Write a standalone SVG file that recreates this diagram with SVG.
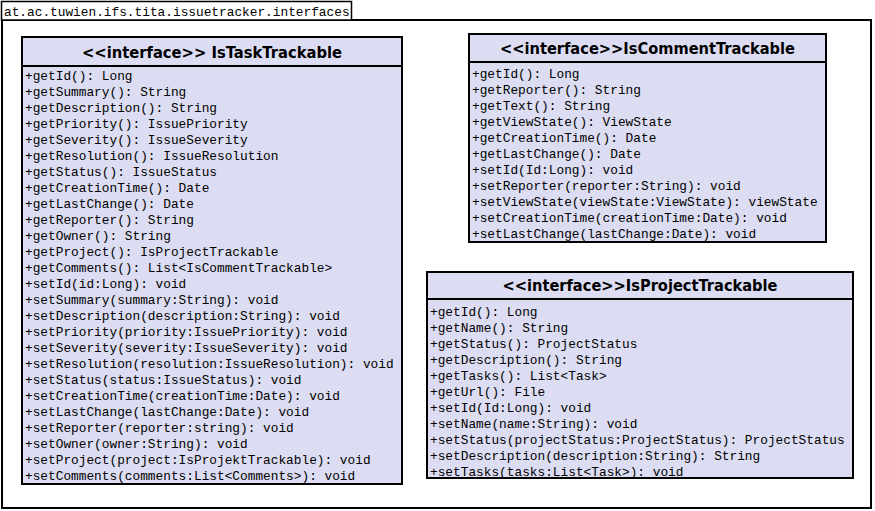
<svg xmlns="http://www.w3.org/2000/svg" width="875" height="511" viewBox="0 0 875 511">
<style>
.frame{fill:#fff;stroke:#000;stroke-width:2}
.tab{fill:#fff;stroke:#000;stroke-width:1.5}
.box{fill:#dcddf2;stroke:#000;stroke-width:2}
.sep{stroke:#000;stroke-width:2}
.title{font-family:"DejaVu Sans","Liberation Sans",sans-serif;font-weight:bold;font-size:16px;fill:#000}
.m{font-family:"Liberation Mono","Courier New",monospace;font-size:12.8px;fill:#000}
</style>
<rect x="0" y="0" width="875" height="511" fill="#fff"/>
<g id="package">
<rect class="frame" x="2" y="20" width="869" height="488"/>
<rect class="tab" x="1.5" y="1.5" width="350" height="18.5"/>
<text class="m" x="4" y="15.5">at.ac.tuwien.ifs.tita.issuetracker.interfaces</text>
</g>
<g id="IsTaskTrackable">
<rect class="box" x="22" y="37" width="380" height="447"/>
<line class="sep" x1="22" y1="66" x2="402" y2="66"/>
<text class="title" x="212" y="57.5" text-anchor="middle" textLength="260" lengthAdjust="spacingAndGlyphs">&lt;&lt;interface&gt;&gt; IsTaskTrackable</text>
<g class="m">
<text x="25" y="79.5">+getId(): Long</text>
<text x="25" y="95.5">+getSummary(): String</text>
<text x="25" y="111.5">+getDescription(): String</text>
<text x="25" y="127.5">+getPriority(): IssuePriority</text>
<text x="25" y="143.5">+getSeverity(): IssueSeverity</text>
<text x="25" y="159.5">+getResolution(): IssueResolution</text>
<text x="25" y="175.5">+getStatus(): IssueStatus</text>
<text x="25" y="191.5">+getCreationTime(): Date</text>
<text x="25" y="207.5">+getLastChange(): Date</text>
<text x="25" y="223.5">+getReporter(): String</text>
<text x="25" y="239.5">+getOwner(): String</text>
<text x="25" y="255.5">+getProject(): IsProjectTrackable</text>
<text x="25" y="271.5">+getComments(): List&lt;IsCommentTrackable&gt;</text>
<text x="25" y="287.5">+setId(id:Long): void</text>
<text x="25" y="303.5">+setSummary(summary:String): void</text>
<text x="25" y="319.5">+setDescription(description:String): void</text>
<text x="25" y="335.5">+setPriority(priority:IssuePriority): void</text>
<text x="25" y="351.5">+setSeverity(severity:IssueSeverity): void</text>
<text x="25" y="367.5">+setResolution(resolution:IssueResolution): void</text>
<text x="25" y="383.5">+setStatus(status:IssueStatus): void</text>
<text x="25" y="399.5">+setCreationTime(creationTime:Date): void</text>
<text x="25" y="415.5">+setLastChange(lastChange:Date): void</text>
<text x="25" y="431.5">+setReporter(reporter:string): void</text>
<text x="25" y="447.5">+setOwner(owner:String): void</text>
<text x="25" y="463.5">+setProject(project:IsProjektTrackable): void</text>
<text x="25" y="479.5">+setComments(comments:List&lt;Comments&gt;): void</text>
</g>
</g>
<g id="IsCommentTrackable">
<rect class="box" x="469" y="34" width="357" height="208"/>
<line class="sep" x1="469" y1="62" x2="826" y2="62"/>
<text class="title" x="647.5" y="54" text-anchor="middle" textLength="295" lengthAdjust="spacingAndGlyphs">&lt;&lt;interface&gt;&gt;IsCommentTrackable</text>
<g class="m">
<text x="472" y="77.5">+getId(): Long</text>
<text x="472" y="93.5">+getReporter(): String</text>
<text x="472" y="109.5">+getText(): String</text>
<text x="472" y="125.5">+getViewState(): ViewState</text>
<text x="472" y="141.5">+getCreationTime(): Date</text>
<text x="472" y="157.5">+getLastChange(): Date</text>
<text x="472" y="173.5">+setId(Id:Long): void</text>
<text x="472" y="189.5">+setReporter(reporter:String): void</text>
<text x="472" y="205.5">+setViewState(viewState:ViewState): viewState</text>
<text x="472" y="221.5">+setCreationTime(creationTime:Date): void</text>
<text x="472" y="237.5">+setLastChange(lastChange:Date): void</text>
</g>
</g>
<g id="IsProjectTrackable">
<rect class="box" x="427" y="272" width="426" height="206"/>
<line class="sep" x1="427" y1="299" x2="853" y2="299"/>
<text class="title" x="640" y="291" text-anchor="middle" textLength="275" lengthAdjust="spacingAndGlyphs">&lt;&lt;interface&gt;&gt;IsProjectTrackable</text>
<g class="m">
<text x="430" y="315.5">+getId(): Long</text>
<text x="430" y="331.5">+getName(): String</text>
<text x="430" y="347.5">+getStatus(): ProjectStatus</text>
<text x="430" y="363.5">+getDescription(): String</text>
<text x="430" y="379.5">+getTasks(): List&lt;Task&gt;</text>
<text x="430" y="395.5">+getUrl(): File</text>
<text x="430" y="411.5">+setId(Id:Long): void</text>
<text x="430" y="427.5">+setName(name:String): void</text>
<text x="430" y="443.5">+setStatus(projectStatus:ProjectStatus): ProjectStatus</text>
<text x="430" y="459.5">+setDescription(description:String): String</text>
<text x="430" y="475.5">+setTasks(tasks:List&lt;Task&gt;): void</text>
</g>
</g>
<g id="connectors"></g>
</svg>
